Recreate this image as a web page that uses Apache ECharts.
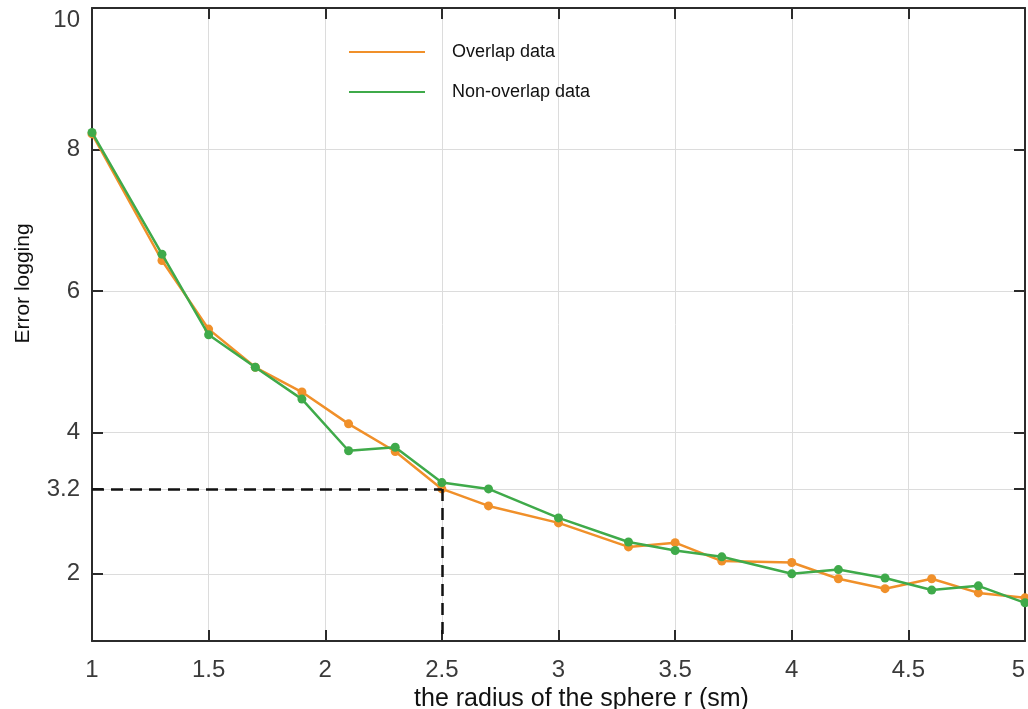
<!DOCTYPE html>
<html>
<head>
<meta charset="utf-8">
<title>Error logging vs sphere radius</title>
<script src="https://cdn.jsdelivr.net/npm/echarts@6/dist/echarts.min.js"></script>
<style>
  html, body { margin: 0; padding: 0; background: #ffffff; }
  #chart { width: 1028px; height: 709px; }
</style>
</head>
<body>
<div id="chart"></div>
<script>
// Sphere radius r (sm) at which the error was logged
const radius = [1, 1.3, 1.5, 1.7, 1.9, 2.1, 2.3, 2.5, 2.7, 3, 3.3, 3.5, 3.7, 4, 4.2, 4.4, 4.6, 4.8, 5];

// Error logging per radius
const overlapData    = [8.22, 6.43, 5.46, 4.92, 4.57, 4.12, 3.73, 3.2, 2.96, 2.72, 2.38, 2.44, 2.18, 2.16, 1.93, 1.79, 1.93, 1.73, 1.66];
const nonOverlapData = [8.24, 6.52, 5.38, 4.92, 4.47, 3.74, 3.79, 3.29, 3.2, 2.79, 2.45, 2.33, 2.24, 2.0, 2.06, 1.94, 1.77, 1.83, 1.59];

// Y ticks (3.2 marks the reference level)
const yTicks = [2, 3.2, 4, 6, 8, 10];

// Reference point drawn with dashed guides
const guideX = 2.5;
const guideY = 3.2;

const xMin = 1, xMax = 5, yMin = 1.05, yMax = 10;

const FONT = '"Liberation Sans", Arial, Helvetica, sans-serif';
const AXIS_COLOR = '#2b2b2b';
const GRID_COLOR = '#dcdcdc';

function pairs(xs, ys) { return xs.map((x, i) => [x, ys[i]]); }

const chart = echarts.init(document.getElementById('chart'), null, { renderer: 'canvas' });

const xCommon = {
  type: 'value', min: xMin, max: xMax, interval: 0.5,
  axisLine: { show: true, onZero: false, lineStyle: { color: AXIS_COLOR, width: 2 } },
  axisTick: { show: true, inside: true, length: 11, lineStyle: { color: AXIS_COLOR, width: 2 } }
};
const yCommon = {
  type: 'value', min: yMin, max: yMax,
  axisLine: { show: true, onZero: false, lineStyle: { color: AXIS_COLOR, width: 2 } },
  axisTick: { show: true, inside: true, length: 11, customValues: yTicks, lineStyle: { color: AXIS_COLOR, width: 2 } }
};

chart.setOption({
  animation: false,
  backgroundColor: '#ffffff',
  textStyle: { fontFamily: FONT },
  grid: { left: 92, right: 3, top: 8, bottom: 68, containLabel: false, outerBoundsMode: 'none' },
  legend: {
    orient: 'vertical',
    left: 349, top: 42,
    padding: 0,
    itemWidth: 76, itemHeight: 2, itemGap: 20,
    icon: 'rect',
    textStyle: { fontFamily: FONT, fontSize: 18, color: '#111', lineHeight: 20, padding: [0, 0, 0, 22] },
    data: ['Overlap data', 'Non-overlap data']
  },
  xAxis: [
    Object.assign({}, xCommon, {
      position: 'bottom',
      name: 'the radius of the sphere r (sm)',
      nameLocation: 'middle', nameGap: 39,
      nameTextStyle: { fontFamily: FONT, fontSize: 25, color: '#111', padding: [0, 0, 0, 46] },
      axisLabel: { show: true, fontFamily: FONT, fontSize: 24, color: '#3a3a3a', margin: 17, alignMaxLabel: 'right' },
      splitLine: { show: true, lineStyle: { color: GRID_COLOR, width: 1 } }
    }),
    Object.assign({}, xCommon, {
      position: 'top',
      axisLabel: { show: false },
      splitLine: { show: false }
    })
  ],
  yAxis: [
    Object.assign({}, yCommon, {
      position: 'left',
      name: 'Error logging',
      nameLocation: 'middle', nameGap: 58, nameRotate: 90,
      nameTextStyle: { fontFamily: FONT, fontSize: 21, color: '#111', padding: [0, 0, 0, 82] },
      axisLabel: { show: true, fontFamily: FONT, fontSize: 24, color: '#3a3a3a', margin: 12,
                   customValues: yTicks, verticalAlignMaxLabel: 'top' },
      splitLine: { show: true, lineStyle: { color: GRID_COLOR, width: 1 } }
    }),
    Object.assign({}, yCommon, {
      position: 'right',
      axisLabel: { show: false },
      splitLine: { show: false }
    })
  ],
  series: [
    {
      name: 'Overlap data',
      type: 'line',
      data: pairs(radius, overlapData),
      color: '#F0902A',
      symbol: 'circle', symbolSize: 9,
      lineStyle: { width: 2.5, color: '#F0902A' },
      itemStyle: { color: '#F0902A' },
      z: 3,
      markLine: {
        silent: true,
        symbol: 'none',
        label: { show: false },
        lineStyle: { color: '#111', width: 2.5, type: [12, 7] },
        data: [
          [{ coord: [xMin, guideY] }, { coord: [guideX, guideY] }],
          [{ coord: [guideX, guideY] }, { coord: [guideX, yMin] }]
        ]
      }
    },
    {
      name: 'Non-overlap data',
      type: 'line',
      data: pairs(radius, nonOverlapData),
      color: '#3FAA4A',
      symbol: 'circle', symbolSize: 9,
      lineStyle: { width: 2.5, color: '#3FAA4A' },
      itemStyle: { color: '#3FAA4A' },
      z: 4
    }
  ]
});
</script>
</body>
</html>
